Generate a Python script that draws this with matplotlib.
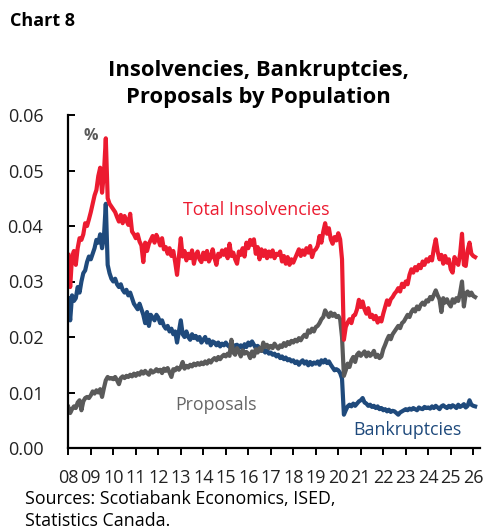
import numpy as np
import matplotlib
matplotlib.use("Agg")
import matplotlib.pyplot as plt

# Monthly data, Jan 2008 - Feb 2026, in units of 0.001 (%)
bankruptcies = [
    27.0, 23.0, 27.5, 26.5, 27.0, 29.0, 28.0, 30.0, 31.5, 32.0, 33.5, 34.5,
    34.0, 35.0, 36.0, 37.5, 37.0, 38.5, 36.0, 38.0, 44.0, 33.0, 31.5, 30.5,
    30.0, 30.5, 29.5, 29.0, 29.5, 28.5, 28.0, 28.5, 27.5, 28.0, 27.0, 26.0,
    25.5, 25.0, 26.0, 25.0, 24.0, 22.5, 24.5, 22.0, 24.0, 23.5, 23.0, 24.0,
    23.5, 22.5, 23.0, 22.0, 21.5, 22.0, 21.0, 21.5, 20.5, 21.0, 19.0, 21.0,
    23.0, 20.5, 20.0, 21.0, 20.0, 19.5, 20.5, 19.8, 20.2, 19.5, 20.0, 19.0,
    19.5, 20.0, 19.0, 19.5, 18.5, 19.2, 19.0, 18.5, 19.0, 18.3, 18.8, 18.5,
    19.0, 18.5, 18.2, 18.8, 18.0, 18.5, 18.6, 18.2, 18.5, 17.8, 18.7, 18.2,
    19.0, 18.5, 19.2, 18.6, 18.0, 18.4, 18.0, 17.5, 17.8, 17.2, 17.6, 17.0,
    17.2, 16.8, 17.0, 16.5, 16.8, 16.2, 16.5, 16.0, 16.3, 15.8, 16.0, 15.6,
    15.8, 15.3, 15.6, 15.0, 15.5, 15.8, 15.2, 15.6, 14.9, 15.5, 15.0, 15.4,
    15.2, 15.6, 15.0, 15.8, 15.4, 15.9, 15.3, 15.6, 15.0, 14.5, 14.0, 14.2,
    14.0, 13.5, 12.5, 6.0, 6.8, 7.5, 7.8, 7.5, 8.0, 7.6, 8.0, 8.4,
    8.6, 9.0, 8.2, 8.0, 7.6, 7.8, 7.4, 7.6, 7.2, 7.5, 7.0, 7.2,
    6.8, 7.0, 6.6, 6.9, 6.5, 6.7, 6.6, 6.3, 6.0, 6.4, 6.6, 6.8,
    7.0, 6.8, 7.1, 6.9, 7.2, 7.0, 6.8, 7.3, 7.1, 7.0, 7.4, 7.2,
    7.3, 7.1, 7.5, 7.2, 7.6, 7.3, 7.0, 7.5, 7.7, 7.4, 7.2, 7.6,
    7.3, 7.7, 7.5, 7.2, 7.8, 7.4, 7.6, 7.9, 7.3, 7.6, 8.6, 7.8,
    7.6, 7.5,
]

proposals = [
    7.4, 6.3, 7.0, 7.5, 7.2, 8.2, 8.6, 6.8, 8.4, 9.0, 9.2, 9.0,
    9.5, 10.2, 9.8, 10.4, 10.0, 10.6, 9.2, 10.8, 12.2, 12.8, 12.5, 12.6,
    12.4, 12.8, 12.2, 11.5, 12.6, 12.9, 12.6, 13.0, 12.8, 13.2, 12.9, 13.4,
    13.0, 13.5, 13.2, 13.8, 13.4, 13.9, 13.5, 13.2, 14.0, 13.6, 13.8, 14.2,
    13.8, 14.1, 13.5, 14.3, 13.9, 14.4, 13.6, 12.8, 14.2, 14.0, 14.5, 14.1,
    14.6, 15.5, 14.3, 14.8, 14.5, 15.0, 14.7, 15.2, 14.9, 15.3, 15.0, 15.4,
    15.1, 15.6, 15.2, 15.8, 15.4, 15.9, 16.2, 15.8, 16.4, 16.0, 16.5, 16.8,
    16.5, 17.0, 16.6, 19.5, 17.2, 16.8, 18.0, 17.4, 16.5, 17.6, 17.0, 17.3,
    17.0, 16.2, 17.4, 16.5, 17.8, 17.2, 18.0, 17.5, 19.0, 18.2, 18.6, 18.0,
    18.4, 18.0, 18.8, 18.3, 17.9, 18.5, 18.2, 18.9, 18.4, 19.1, 18.7, 19.3,
    19.0, 19.5, 19.2, 19.8, 19.4, 20.0, 20.4, 20.0, 21.2, 20.8, 21.5, 21.0,
    21.8, 22.0, 22.5, 23.2, 23.6, 24.8, 24.2, 23.6, 24.4, 23.8, 24.2, 23.6,
    23.8, 23.2, 20.0, 13.0, 14.0, 15.2, 14.6, 15.8, 16.4, 15.5, 16.8, 17.2,
    16.6, 17.0, 17.4, 16.5, 17.2, 16.6, 16.9, 17.5, 16.4, 16.8, 16.2, 16.5,
    17.8, 18.6, 19.5, 20.2, 19.6, 20.5, 21.0, 21.5, 22.0, 21.6, 22.5, 22.8,
    23.4, 24.0, 23.6, 24.5, 25.0, 24.6, 25.5, 25.0, 25.8, 26.2, 25.8, 26.6,
    26.4, 27.2, 26.8, 27.6, 28.4, 27.5, 26.8, 24.5, 27.0, 26.2, 26.8, 26.0,
    25.5, 26.8, 26.2, 27.0, 26.5, 28.0, 30.0, 25.5, 27.8, 28.2, 27.5, 28.0,
    27.4, 27.2,
]

total_insolvencies = [
    34.8, 29.0, 34.5, 35.5, 33.0, 36.0, 37.8, 37.5, 38.5, 40.5, 40.0, 41.2,
    42.5, 44.0, 45.5, 46.5, 49.0, 50.5, 46.0, 49.5, 55.8, 45.0, 44.0, 43.5,
    43.0, 42.5, 41.6, 40.8, 42.0, 40.5, 41.8, 41.0, 40.2, 42.2, 39.0, 38.5,
    37.8, 38.5, 37.2, 36.5, 33.5, 37.0, 35.5, 36.8, 37.5, 38.2, 37.0, 38.4,
    37.6, 36.5, 37.8, 35.8, 36.2, 35.0, 36.0, 34.6, 35.5, 33.5, 31.2, 34.5,
    37.8, 34.5, 35.5, 33.8, 35.0, 34.2, 35.6, 33.2, 34.8, 35.4, 34.0, 33.5,
    35.2, 34.0, 35.5, 33.6, 34.4, 35.8, 34.2, 33.0, 35.0, 34.5, 35.6, 34.8,
    35.8, 34.2, 36.8, 34.6, 35.2, 34.0, 33.2, 35.4, 34.8, 36.0, 34.5, 37.0,
    36.0, 37.5, 36.6, 37.6, 35.0, 36.2, 34.0, 35.8, 34.6, 35.6, 34.2, 35.4,
    34.5, 35.6, 34.2, 35.0, 34.8, 35.4, 33.6, 34.6, 33.2, 34.4, 33.0, 34.0,
    33.4, 34.2, 35.0, 35.8, 34.6, 35.6, 34.8, 36.0, 35.2, 36.4, 34.4, 35.5,
    35.8, 36.4, 38.2, 37.0, 39.0, 40.5, 38.6, 39.6, 37.6, 36.8, 38.0, 37.4,
    38.7, 37.6, 34.0, 19.5, 21.8, 22.6, 23.2, 22.5, 23.8, 24.0, 25.0, 26.7,
    25.4, 26.4, 25.0, 24.2, 25.2, 23.6, 24.0, 23.2, 23.8, 22.6, 23.4, 22.8,
    24.2, 25.4, 26.6, 25.8, 26.8, 27.2, 27.8, 28.2, 28.8, 28.2, 29.6, 29.0,
    30.0, 29.5, 31.2, 32.2, 31.6, 32.6, 32.0, 33.0, 32.4, 33.6, 33.0, 34.0,
    33.6, 34.4, 33.8, 36.0, 37.6, 35.4, 34.0, 34.8, 33.2, 34.6, 33.4, 34.0,
    32.2, 31.6, 34.4, 33.6, 33.0, 35.0, 38.6, 33.0, 32.8, 35.6, 37.0, 35.0,
    34.6, 34.4,
]

start_year = 2008
year_ticks = list(range(2008, 2027))
year_labels = [f"{y % 100:02d}" for y in year_ticks]
y_ticks = [0.00, 0.01, 0.02, 0.03, 0.04, 0.05, 0.06]

RED = "#EC1B30"
BLUE = "#1F4A7C"
GRAY = "#5A5A5A"

plt.rcParams['font.family'] = ['Open Sans', 'DejaVu Sans']

W, H = 484, 531
fig = plt.figure(figsize=(W / 100, H / 100), dpi=100)
ax = fig.add_axes([68.3 / W, 1 - 448 / H, (480 - 68.3) / W, (448 - 115) / H])

n = len(bankruptcies)
x = start_year + np.arange(n) / 12.0
scale = 1e-3

ax.plot(x, np.array(bankruptcies) * scale, color=BLUE, lw=3.0, solid_joinstyle='round')
ax.plot(x, np.array(proposals) * scale, color=GRAY, lw=3.0, solid_joinstyle='round')
ax.plot(x, np.array(total_insolvencies) * scale, color=RED, lw=3.0, solid_joinstyle='round')

ax.set_xlim(2008, 2026.3)
ax.set_ylim(0, 0.06)
ax.set_yticks(y_ticks)
ax.set_yticklabels([f"{v:.2f}" for v in y_ticks])
ax.set_xticks(year_ticks)
ax.set_xticklabels(year_labels)

for s in ['top', 'right']:
    ax.spines[s].set_visible(False)
for s in ['left', 'bottom']:
    ax.spines[s].set_linewidth(1.6)
    ax.spines[s].set_color('black')

ax.tick_params(axis='y', direction='in', length=5, width=1.4, pad=18, labelsize=13, colors='black')
ax.tick_params(axis='x', direction='out', length=5, width=1.4, pad=10, labelsize=13, colors='black')
for lab in ax.get_yticklabels() + ax.get_xticklabels():
    lab.set_color('#222222')

def fy(py):
    return 1 - py / H

fig.text(10 / W, fy(21), "Chart 8", fontsize=13, fontweight='bold', ha='left', va='center', color='black')
fig.text(258 / W, fy(84), "Insolvencies, Bankruptcies,\nProposals by Population", fontsize=15.8,
         fontweight='bold', ha='center', va='center', linespacing=1.35, color='black')

fig.text(83 / W, fy(136), "%", fontsize=11.5, fontweight='bold', color=GRAY, ha='left', va='center')
fig.text(183 / W, fy(210), "Total Insolvencies", fontsize=12.8, color=RED, ha='left', va='center')
fig.text(175 / W, fy(405), "Proposals", fontsize=12.8, color='#666666', ha='left', va='center')
fig.text(353 / W, fy(430), "Bankruptcies", fontsize=12.8, color=BLUE, ha='left', va='center')

fig.text(25 / W, fy(499), "Sources: Scotiabank Economics, ISED,", fontsize=12.8, color='black', ha='left', va='center')
fig.text(25 / W, fy(521), "Statistics Canada.", fontsize=12.8, color='black', ha='left', va='center')

fig.savefig("out.png", dpi=100)
